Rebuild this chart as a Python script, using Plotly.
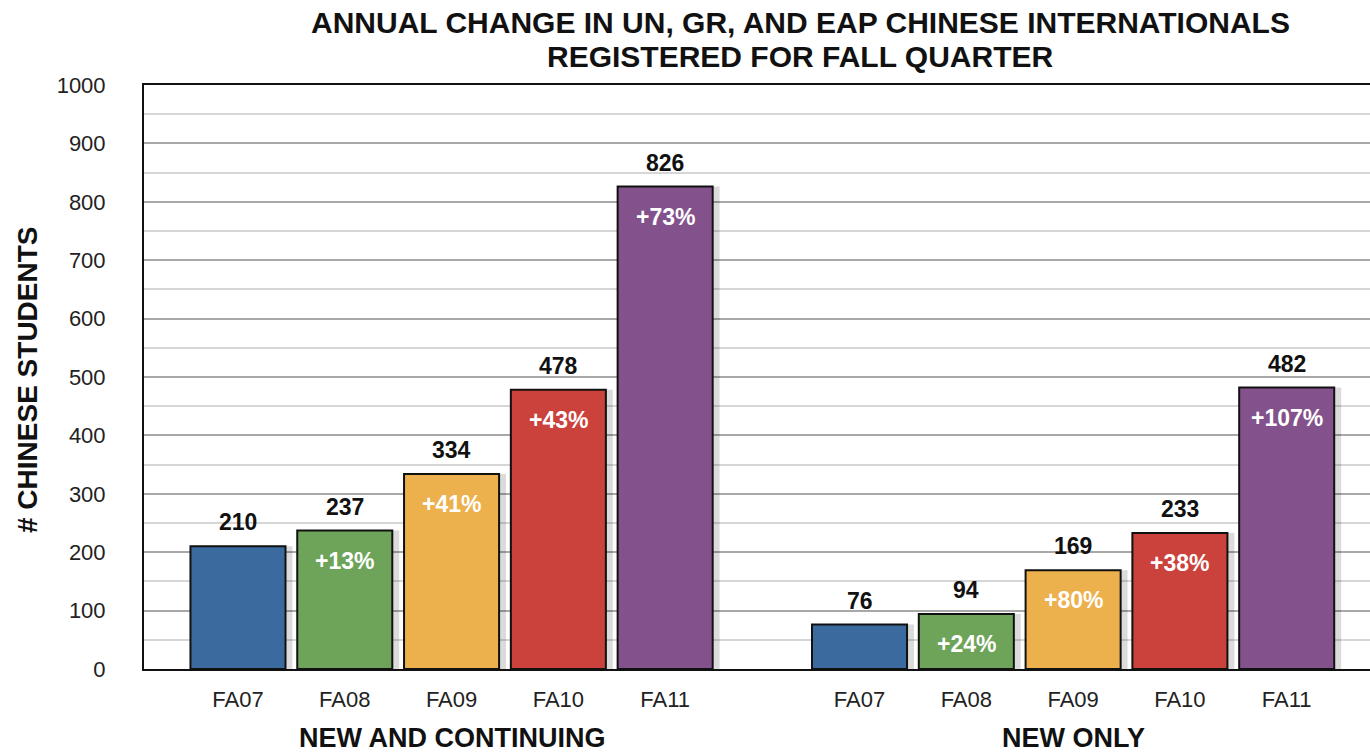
import plotly.graph_objects as go

title_lines = ["ANNUAL CHANGE IN UN, GR, AND EAP CHINESE INTERNATIONALS", "REGISTERED FOR FALL QUARTER"]
y_title = "# CHINESE STUDENTS"
groups = ["NEW AND CONTINUING", "NEW ONLY"]
terms = ["FA07", "FA08", "FA09", "FA10", "FA11"]
values_all = [210, 237, 334, 478, 826]
values_new = [76, 94, 169, 233, 482]
pct_all = ["", "+13%", "+41%", "+43%", "+73%"]
pct_new = ["", "+24%", "+80%", "+38%", "+107%"]
colors = ["#3B6A9E", "#6DA459", "#ECB04C", "#CB413B", "#83528C"]

group_gap = 5.82
font = "Liberation Sans, Arial, Helvetica, sans-serif"

W, H = 1370, 754
L, T, B, R = 144, 85, 85, 0
plot_w = W - L - R

fig = go.Figure()

series = [values_all, values_new]
pcts = [pct_all, pct_new]
xs_all, ys_all, cols_all, ticktext = [], [], [], []
for g, vals in enumerate(series):
    for i, v in enumerate(vals):
        xs_all.append(i + g * group_gap)
        ys_all.append(v)
        cols_all.append(colors[i])
        ticktext.append(terms[i])

# soft shadow
fig.add_trace(go.Bar(x=[x + 0.045 for x in xs_all], y=ys_all, width=0.93,
                     marker=dict(color="rgba(0,0,0,0.14)", line=dict(width=0)),
                     hoverinfo="skip", showlegend=False))
fig.add_trace(go.Bar(x=xs_all, y=ys_all, width=0.89,
                     marker=dict(color=cols_all, line=dict(color="#111111", width=2)),
                     showlegend=False))

annotations = []
k = 0
for g, vals in enumerate(series):
    for i, v in enumerate(vals):
        x = xs_all[k]
        annotations.append(dict(x=x, y=v, xref="x", yref="y", text=f"<b>{v}</b>",
                                showarrow=False, yanchor="bottom", yshift=9,
                                font=dict(family=font, size=23, color="#111111")))
        if pcts[g][i]:
            annotations.append(dict(x=x, y=v, xref="x", yref="y", text=f"<b>{pcts[g][i]}</b>",
                                    showarrow=False, yanchor="middle", yshift=-30,
                                    font=dict(family=font, size=23, color="white")))
        k += 1
    annotations.append(dict(x=2 + g * group_gap, y=0, xref="x", yref="paper",
                            text=f"<b>{groups[g]}</b>", showarrow=False,
                            yanchor="middle", yshift=-69,
                            font=dict(family=font, size=27, color="#111111")))

title_x = (800 - L) / plot_w
for line, shift in zip(title_lines, [63, 29]):
    annotations.append(dict(x=title_x, y=1, xref="paper", yref="paper", yanchor="middle",
                            yshift=shift, text=f"<b>{line}</b>", showarrow=False,
                            xanchor="center", borderpad=0,
                            font=dict(family=font, size=30, color="#111111")))
annotations.append(dict(x=(27 - L) / plot_w, y=0.5, xref="paper", yref="paper",
                        yshift=-3, text=f"<b>{y_title}</b>", textangle=-90, showarrow=False,
                        xanchor="center", yanchor="middle",
                        font=dict(family=font, size=28, color="#111111")))

fig.update_layout(
    width=W, height=H,
    margin=dict(l=L, r=R, t=T, b=B),
    plot_bgcolor="white", paper_bgcolor="white",
    barmode="overlay",
    annotations=annotations,
    xaxis=dict(range=[-0.88, 10.6], tickvals=xs_all, ticktext=ticktext,
               showgrid=False, zeroline=False, showline=True, linecolor="#111111",
               linewidth=2, mirror=True, ticks="", ticklabelstandoff=10,
               tickfont=dict(family=font, size=22, color="#222222")),
    yaxis=dict(range=[0, 1000], dtick=100, showgrid=True, gridcolor="#A8A8A8", gridwidth=1.5,
               minor=dict(dtick=50, showgrid=True, gridcolor="#D6D6D6", gridwidth=1.5),
               zeroline=False, showline=True, linecolor="#111111", linewidth=2, mirror=False,
               ticks="", ticklabelstandoff=32,
               tickfont=dict(family=font, size=22, color="#222222")),
)

fig.write_html("out.html", config={"displayModeBar": False},
               post_script="document.body.style.margin='0';document.body.style.overflow='hidden';")
